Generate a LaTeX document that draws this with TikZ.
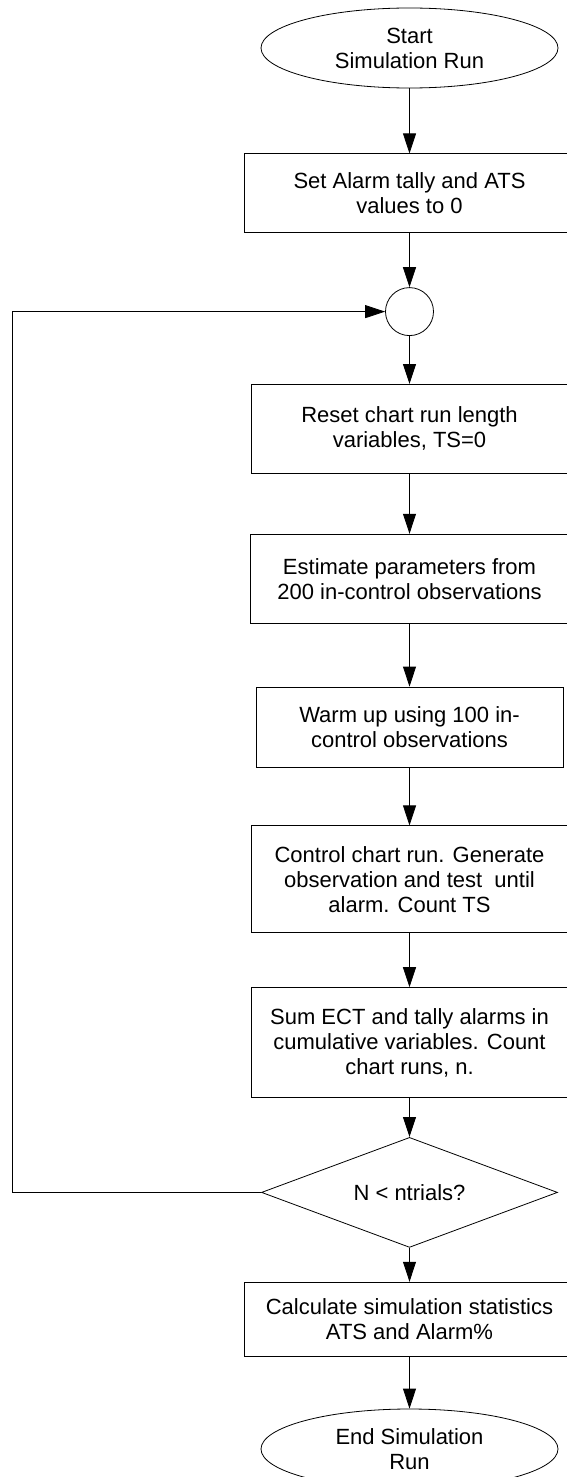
\documentclass[tikz,border=0pt]{standalone}
\usepackage{fontspec}
\setmainfont{Liberation Sans}
\usetikzlibrary{arrows.meta,positioning,shapes.geometric}

\begin{document}
\begin{tikzpicture}[->,>={Triangle[length=20pt,width=13pt]},thick,
  every node/.style={font=\fontsize{22}{25}\selectfont,align=center},
  proc/.style={draw,rectangle,minimum width=316pt},
  term/.style={draw,ellipse,minimum width=297pt,minimum height=80pt},
  decision/.style={draw,diamond,aspect=2.7,minimum width=296pt,minimum height=110pt,inner sep=1pt}]
  \useasboundingbox (0,0) rectangle (566pt,-1477pt);
  \node[term] (start) at (409.5pt,-48pt) {Start\\Simulation Run};
  \node[proc,minimum width=330pt,minimum height=79pt] (set) [below=65pt of start] {Set Alarm tally and ATS\\values to 0};
  \node[draw,circle,minimum size=48pt] (join) [below=54pt of set] {};
  \node[proc,minimum height=89pt] (reset) [below=48pt of join] {Reset chart run length\\variables, TS=0};
  \node[proc,minimum width=318pt,minimum height=89pt] (est) [below=60pt of reset] {Estimate parameters from\\200 in-control observations};
  \node[proc,minimum width=307pt,minimum height=80pt] (warm) [below=63pt of est] {Warm up using 100 in-\\control observations};
  \node[proc,minimum height=107pt] (ctrl) [below=58pt of warm] {Control chart run. Generate\\observation and test\ \ until\\alarm. Count TS};
  \node[proc,minimum height=110pt] (sum) [below=54pt of ctrl] {Sum ECT and tally alarms in\\cumulative variables. Count\\chart runs, n.};
  \node[decision] (dec) [below=39pt of sum] {N < ntrials?};
  \node[proc,minimum width=330pt,minimum height=74pt] (calc) [below=34pt of dec] {Calculate simulation statistics\\ATS and Alarm\%};
  \node[term] (stop) [below=52pt of calc] {End Simulation\\Run};
  \coordinate (back) at (12pt,0);
  \path (start) edge (set);
  \path (set) edge (join);
  \path (join) edge (reset);
  \path (reset) edge (est);
  \path (est) edge (warm);
  \path (warm) edge (ctrl);
  \path (ctrl) edge (sum);
  \path (sum) edge (dec);
  \path (dec) edge (calc);
  \path (calc) edge (stop);
  \draw (dec.west) -| (back |- join) -- (join);
\end{tikzpicture}
\end{document}
